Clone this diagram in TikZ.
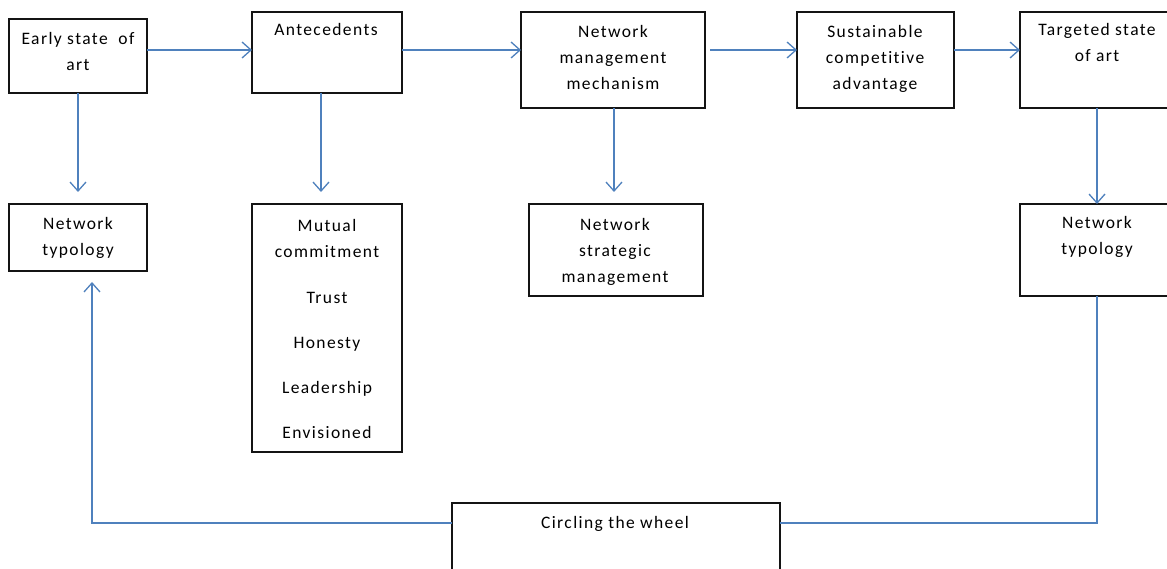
\documentclass[tikz,border=0pt]{standalone}
\usepackage{fontspec}
\setmainfont[LetterSpace=8,RawFeature=-liga]{Carlito}
\usetikzlibrary{arrows.meta,calc}
\definecolor{lineblue}{RGB}{79,129,189}
\definecolor{boxline}{RGB}{20,20,20}
\tikzset{
  box/.style={draw=boxline, line width=1.4pt, rectangle, inner sep=0pt, outer sep=0pt, fill=white},
  txt/.style={align=center, inner sep=0pt, outer sep=0pt, anchor=base, font=\fontsize{17.5}{26}\selectfont},
  conn/.style={draw=lineblue, line width=1.3pt},
  arr/.style={conn, -{Straight Barb[length=9pt,width=16pt,line width=1.3pt]}}
}
\begin{document}
\begin{tikzpicture}[x=1pt,y=-1pt]
\useasboundingbox (0,0) rectangle (1167,569);
\fill[white] (0,0) rectangle (1167,569);
% boxes
\node[box, minimum width=138pt, minimum height=74pt] (early) at (78,56) {};
\node[box, minimum width=150pt, minimum height=81pt] (ante) at (327,52.5) {};
\node[box, minimum width=184pt, minimum height=96pt] (nmm) at (613,60) {};
\node[box, minimum width=157pt, minimum height=96pt] (sca) at (875.5,60) {};
\node[box, minimum width=155pt, minimum height=96pt] (targ) at (1097.5,60) {};
\node[box, minimum width=138pt, minimum height=67pt] (ntl) at (78,237.5) {};
\node[box, minimum width=150pt, minimum height=248pt] (mut) at (327,328) {};
\node[box, minimum width=174pt, minimum height=92pt] (nsm) at (616,250) {};
\node[box, minimum width=155pt, minimum height=92pt] (ntr) at (1097.5,250) {};
\node[box, minimum width=328pt, minimum height=77pt] (circ) at (616,541.5) {};
% texts (anchor=base sits on the last line's baseline)
\node[txt] (early-t) at (78,71) {Early state\ \ of\\art};
\node[txt] (ante-t) at (326,36) {Antecedents};
\node[txt] (nmm-t) at (613,90) {Network\\management\\mechanism};
\node[txt] (sca-t) at (875,90) {Sustainable\\competitive\\advantage};
\node[txt] (targ-t) at (1097,62) {Targeted state\\of art};
\node[txt] (ntl-t) at (78,256) {Network\\typology};
\node[txt] (mut-t) at (327,438) {Mutual\\commitment\\[20pt]Trust\\[19pt]Honesty\\[19pt]Leadership\\[19pt]Envisioned};
\node[txt] (nsm-t) at (615,283) {Network\\strategic\\management};
\node[txt] (ntr-t) at (1097,255) {Network\\typology};
\node[txt] (circ-t) at (615,528) {Circling the wheel};
% connectors
\draw[arr] (early.east |- 0,50) -- (ante.west |- 0,50);
\draw[arr] (ante.east |- 0,50) -- (nmm.west |- 0,50);
\draw[arr, shorten <=5pt] (nmm.east |- 0,50) -- (sca.west |- 0,50);
\draw[arr] (sca.east |- 0,50) -- (targ.west |- 0,50);
\draw[arr, shorten >=12pt] (early.south) -- (ntl.north);
\draw[arr, shorten >=12pt] (ante.south -| 321,0) -- (mut.north -| 321,0);
\draw[arr, shorten >=12pt] (nmm.south -| 614,0) -- (nsm.north -| 614,0);
\draw[arr] (targ.south -| 1097,0) -- (ntr.north -| 1097,0);
\draw[arr, shorten >=11pt] (circ.west |- 0,523) -| (ntl.south -| 92,0);
\draw[conn] (circ.east |- 0,523) -| (ntr.south -| 1097,0);
\end{tikzpicture}
\end{document}
